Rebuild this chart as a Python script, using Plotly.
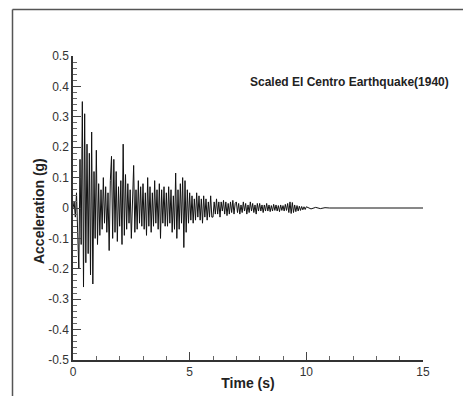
import plotly.graph_objects as go

# Sampled accelerogram (g), dt = 0.05 s, t = 0 .. 9.95 s (one row per second)
accel_rows = [
    [0.00, 0.02, -0.03, 0.05, -0.08, -0.20, 0.16, -0.12, 0.35, -0.26, 0.31, -0.18, 0.21, -0.15, 0.18, -0.22, 0.25, -0.25, 0.12, -0.10],
    [0.19, -0.12, 0.08, -0.09, 0.06, -0.07, 0.10, -0.05, 0.07, -0.08, 0.05, -0.14, 0.09, 0.17, -0.10, 0.16, -0.08, 0.12, -0.11, 0.07],
    [-0.06, 0.09, -0.12, 0.21, -0.09, 0.11, -0.07, 0.08, -0.05, 0.06, -0.10, 0.07, 0.14, -0.08, 0.06, -0.07, 0.09, -0.05, 0.07, -0.06],
    [0.08, -0.07, 0.05, -0.09, 0.10, -0.06, 0.07, -0.08, 0.05, -0.06, 0.09, -0.05, 0.06, -0.07, 0.08, -0.10, 0.06, -0.05, 0.07, -0.06],
    [0.05, -0.06, 0.07, -0.05, 0.06, -0.08, 0.04, -0.07, 0.115, -0.10, 0.06, -0.07, 0.08, -0.05, 0.10, -0.13, 0.09, -0.08, 0.06, -0.05],
    [0.05, -0.04, 0.04, -0.05, 0.03, -0.04, 0.05, -0.03, 0.04, -0.04, 0.03, -0.05, 0.04, -0.03, 0.03, -0.04, 0.02, -0.03, 0.04, -0.03],
    [-0.03, 0.02, -0.02, 0.03, -0.02, 0.02, -0.03, 0.02, -0.01, 0.025, -0.02, 0.02, -0.025, 0.015, -0.02, 0.02, -0.015, 0.025, -0.02, 0.015],
    [0.02, -0.015, 0.015, -0.02, 0.01, -0.015, 0.02, -0.01, 0.015, -0.02, 0.01, -0.015, 0.02, -0.01, 0.015, -0.015, 0.01, -0.02, 0.015, -0.01],
    [0.015, -0.01, 0.01, -0.015, 0.01, -0.01, 0.015, -0.01, 0.01, -0.012, 0.008, -0.01, 0.012, -0.008, 0.01, -0.01, 0.008, -0.012, 0.01, -0.008],
    [0.008, -0.01, 0.012, -0.008, 0.015, -0.015, 0.02, -0.018, 0.018, -0.015, 0.01, -0.012, 0.008, -0.01, 0.006, -0.008, 0.005, -0.006, 0.004, -0.005],
]
sample_dt = 0.05
tail_time = [10.0, 10.2, 10.4, 10.6, 10.8, 11.0, 15.0]
tail_accel = [0.004, -0.003, 0.002, -0.002, 0.001, 0.0, 0.0]

y_tick_vals = [0.5, 0.4, 0.3, 0.2, 0.1, 0.0, -0.1, -0.2, -0.3, -0.4, -0.5]
y_tick_text = ["0.5", "0.4", "0.3", "0.2", "0.1", "0", "-0.1", "-0.2", "-0.3", "-0.4", "-0.5"]
x_tick_vals = [0, 5, 10, 15]
x_tick_text = ["0", "5", "10", "15"]

time = []
accel = []
for r, row in enumerate(accel_rows):
    for i, v in enumerate(row):
        time.append(round((r * len(row) + i) * sample_dt, 3))
        accel.append(v)
time += tail_time
accel += tail_accel

fig = go.Figure()
fig.add_trace(go.Scatter(x=time, y=accel, mode="lines",
                         line=dict(color="#111111", width=1), showlegend=False))

axis_font = dict(family="Liberation Sans, Arial, sans-serif", size=12, color="#333333")
title_font = dict(family="Liberation Sans, Arial, sans-serif", size=14, color="#222222")

fig.update_xaxes(range=[0, 15], tickvals=x_tick_vals, ticktext=x_tick_text,
                 ticks="inside", ticklen=8, tickwidth=1.2, tickcolor="#444",
                 minor=dict(ticks="inside", dtick=1, ticklen=4, tickcolor="#666"),
                 showline=True, linecolor="#333", linewidth=1.5,
                 showgrid=False, zeroline=False, tickfont=axis_font,
                 title=dict(text="<b>Time (s)</b>", font=title_font, standoff=0))
fig.update_yaxes(range=[-0.5, 0.5], tickvals=y_tick_vals, ticktext=y_tick_text,
                 ticks="inside", ticklen=8, tickwidth=1.2, tickcolor="#444",
                 minor=dict(ticks="inside", dtick=0.02, ticklen=4, tickcolor="#666"),
                 showline=True, linecolor="#333", linewidth=1.5,
                 showgrid=False, zeroline=False, tickfont=axis_font)

# the page body adds an 8px offset; the figure is sized to fill the rest of the window
OFF = 8
L, R, T, B = 73 - OFF, 48, 56 - OFF, 36
W, H = 471 - OFF, 396 - OFF
pw, ph = W - L - R, H - T - B

fig.add_annotation(text="<b>Scaled El Centro Earthquake(1940)</b>", xref="paper", yref="paper",
                   x=0.5, y=0.914, xanchor="left", yanchor="middle", showarrow=False,
                   font=dict(family="Liberation Sans, Arial, sans-serif", size=12, color="#222"))
fig.add_annotation(text="<b>Acceleration (g)</b>", xref="paper", yref="paper",
                   x=(39 - 73) / pw, y=0.49, textangle=-90, xanchor="center", yanchor="middle",
                   showarrow=False, font=title_font)

fx = (12.5 - OFF - L) / pw
fy = (H - B - (9.5 - OFF)) / ph
fig.add_shape(type="line", xref="paper", yref="paper", x0=fx, x1=(W - L) / pw, y0=fy, y1=fy,
              line=dict(color="#555", width=1.5))
fig.add_shape(type="line", xref="paper", yref="paper", x0=fx, x1=fx, y0=fy, y1=-B / ph - 0.01,
              line=dict(color="#555", width=1.5))

fig.update_layout(width=W, height=H, margin=dict(l=L, r=R, t=T, b=B, autoexpand=False),
                  plot_bgcolor="white", paper_bgcolor="white")
fig.write_html("out.html")
